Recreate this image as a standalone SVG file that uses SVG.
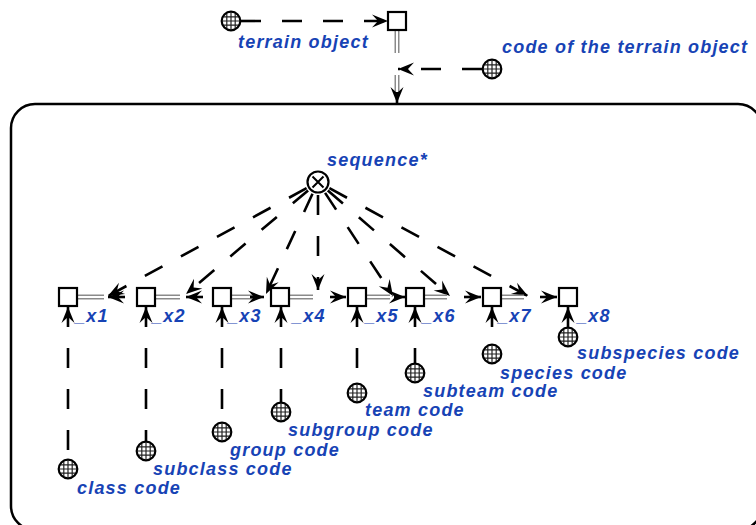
<svg xmlns="http://www.w3.org/2000/svg" width="756" height="525" viewBox="0 0 756 525">
<style>
.t{font-family:"Liberation Sans",Arial,sans-serif;font-weight:bold;font-style:italic;font-size:18px;letter-spacing:1.2px;fill:#1743b5}
.d{fill:none;stroke:#000;stroke-width:2.6;stroke-dasharray:20 21}
.s{fill:none;stroke:#000;stroke-width:2.6}
.sq{fill:#fff;stroke:#000;stroke-width:2.2}
.dbo{fill:none;stroke:#8a8a8a;stroke-width:5}
.dbi{fill:none;stroke:#fff;stroke-width:2}
</style>
<defs>
<marker id="ah" viewBox="-17 -8 18 16" refX="0" refY="0" markerWidth="18" markerHeight="16" markerUnits="userSpaceOnUse" orient="auto-start-reverse">
<path d="M0,0 L-16,-6.5 L-10,0 L-16,6.5 Z" fill="#000"/>
</marker>
<clipPath id="gc"><circle r="8.5"/></clipPath>
<g id="globe"><circle r="9.3" fill="#fff"/><path clip-path="url(#gc)" d="M-4.2,-10V10M0,-10V10M4.2,-10V10M-10,-4.2H10M-10,0H10M-10,4.2H10" stroke="#222" stroke-width="1.2" fill="none"/><circle r="9.3" fill="none" stroke="#000" stroke-width="2.2"/></g>
</defs>
<rect x="11" y="104" width="751" height="426" rx="24" fill="none" stroke="#000" stroke-width="2.5"/>
<g id="connectors">
<path class="d" d="M241,21 H388" marker-end="url(#ah)"/>
<path class="dbo" d="M397,30 V53"/><path class="dbi" d="M397,30 V53"/>
<path class="d" d="M482,69 H398" marker-end="url(#ah)"/>
<path class="dbo" d="M397,75 V96"/><path class="dbi" d="M397,75 V96"/>
<path class="s" d="M397,92 V103" marker-end="url(#ah)"/>
<path class="d" d="M306.6,188.2 L108,296" marker-end="url(#ah)"/>
<path class="d" d="M308.1,190.4 L186,294" marker-end="url(#ah)"/>
<path class="d" d="M312.5,193.8 L266,294" marker-end="url(#ah)"/>
<path class="d" d="M318,195 V290" marker-end="url(#ah)"/>
<path class="d" d="M325.1,192.9 L393,296" marker-end="url(#ah)"/>
<path class="d" d="M327.8,190.5 L450,296" marker-end="url(#ah)"/>
<path class="d" d="M329.4,188.2 L528,296" marker-end="url(#ah)"/>
<path class="dbo" d="M78,297 H104"/><path class="dbi" d="M78,297 H104"/>
<path class="s" d="M125,297 H108" marker-end="url(#ah)"/>
<path class="dbo" d="M156,297 H180"/><path class="dbi" d="M156,297 H180"/>
<path class="s" d="M203,297 H186" marker-end="url(#ah)"/>
<path class="dbo" d="M232,297 H256"/><path class="dbi" d="M232,297 H256"/>
<path class="s" d="M250,297 H264" marker-end="url(#ah)"/>
<path class="dbo" d="M290,297 H313"/><path class="dbi" d="M290,297 H313"/>
<path class="s" d="M330,297 H346" marker-end="url(#ah)"/>
<path class="dbo" d="M367,297 H390"/><path class="dbi" d="M367,297 H390"/>
<path class="s" d="M394,297 H405" marker-end="url(#ah)"/>
<path class="dbo" d="M425,297 H447"/><path class="dbi" d="M425,297 H447"/>
<path class="s" d="M464,297 H481" marker-end="url(#ah)"/>
<path class="dbo" d="M502,297 H524"/><path class="dbi" d="M502,297 H524"/>
<path class="s" d="M540,297 H557" marker-end="url(#ah)"/>
<path class="d" d="M68,307 V460" marker-start="url(#ah)"/>
<path class="d" d="M146,307 V442" marker-start="url(#ah)"/>
<path class="d" d="M222,307 V423" marker-start="url(#ah)"/>
<path class="d" d="M281,307 V403" marker-start="url(#ah)"/>
<path class="d" d="M357,307 V384" marker-start="url(#ah)"/>
<path class="d" d="M415,307 V364" marker-start="url(#ah)"/>
<path class="d" d="M492,307 V345" marker-start="url(#ah)"/>
<path class="s" d="M568,307 V328" marker-start="url(#ah)"/>
</g>
<g id="terrain-object"><use href="#globe" x="231" y="21"/><text class="t" x="238" y="48">terrain object</text></g>
<g id="top-square"><rect class="sq" x="388" y="12" width="18" height="18"/></g>
<g id="terrain-code"><use href="#globe" x="492" y="69"/><text class="t" x="502" y="53">code of the terrain object</text></g>
<g id="sequence"><circle cx="318" cy="182" r="10.5" fill="#fff" stroke="#000" stroke-width="2.2"/><path d="M312.5,176.5 L323.5,187.5 M323.5,176.5 L312.5,187.5" stroke="#000" stroke-width="2"/><text class="t" x="327" y="166">sequence*</text></g>
<g id="x1"><rect class="sq" x="59" y="288" width="18" height="18"/><text class="t" x="75" y="322">_x1</text></g>
<g id="x2"><rect class="sq" x="137" y="288" width="18" height="18"/><text class="t" x="152" y="322">_x2</text></g>
<g id="x3"><rect class="sq" x="213" y="288" width="18" height="18"/><text class="t" x="228" y="322">_x3</text></g>
<g id="x4"><rect class="sq" x="271" y="288" width="18" height="18"/><text class="t" x="292" y="322">_x4</text></g>
<g id="x5"><rect class="sq" x="348" y="288" width="18" height="18"/><text class="t" x="365" y="322">_x5</text></g>
<g id="x6"><rect class="sq" x="406" y="288" width="18" height="18"/><text class="t" x="422" y="322">_x6</text></g>
<g id="x7"><rect class="sq" x="483" y="288" width="18" height="18"/><text class="t" x="498" y="322">_x7</text></g>
<g id="x8"><rect class="sq" x="559" y="288" width="18" height="18"/><text class="t" x="577" y="322">_x8</text></g>
<g id="class-code"><use href="#globe" x="68" y="469"/><text class="t" x="77" y="494">class code</text></g>
<g id="subclass-code"><use href="#globe" x="146" y="451"/><text class="t" x="153" y="475">subclass code</text></g>
<g id="group-code"><use href="#globe" x="222" y="432"/><text class="t" x="230" y="456">group code</text></g>
<g id="subgroup-code"><use href="#globe" x="281" y="412"/><text class="t" x="288" y="436">subgroup code</text></g>
<g id="team-code"><use href="#globe" x="357" y="393"/><text class="t" x="365" y="416">team code</text></g>
<g id="subteam-code"><use href="#globe" x="415" y="373"/><text class="t" x="423" y="397">subteam code</text></g>
<g id="species-code"><use href="#globe" x="492" y="354"/><text class="t" x="500" y="379">species code</text></g>
<g id="subspecies-code"><use href="#globe" x="568" y="337"/><text class="t" x="577" y="359">subspecies code</text></g>
</svg>
